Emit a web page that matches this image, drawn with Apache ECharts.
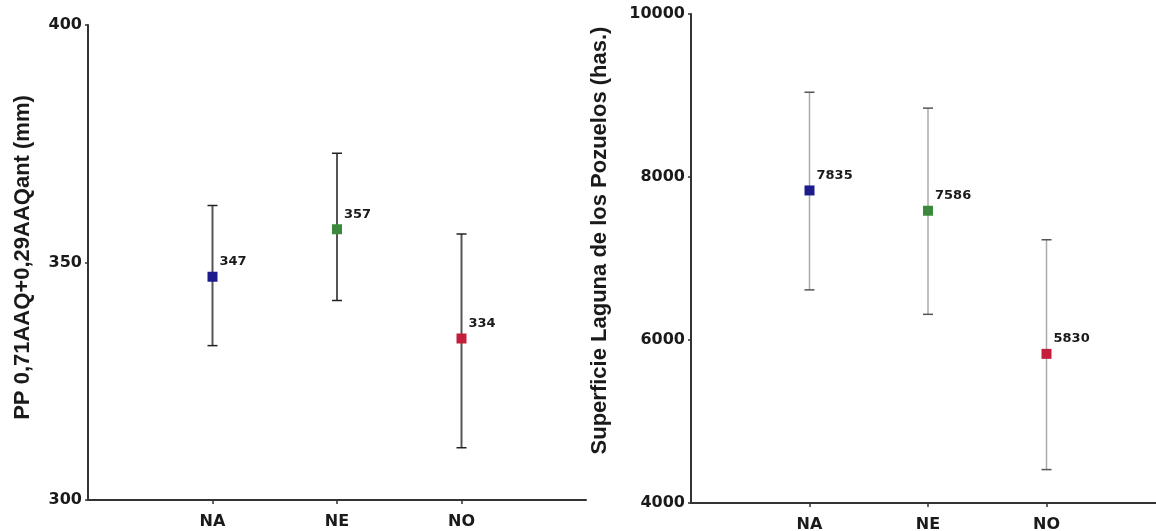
<!DOCTYPE html>
<html>
<head>
<meta charset="utf-8">
<script src="https://cdn.jsdelivr.net/npm/echarts@6/dist/echarts.min.js"></script>
<style>
html,body{margin:0;padding:0;background:#fff;}
#c{width:1156px;height:531px;}
</style>
</head>
<body>
<div id="c"></div>
<script>
// ---- data ----
var categories = ['NA', 'NE', 'NO'];
var markerColors = ['#1c1c8c', '#3b8a3b', '#c41e3a'];

var ppMean = [347, 357, 334];
var ppLow = [332.5, 342, 311];
var ppHigh = [362, 373, 356];

var supMean = [7835, 7586, 5830];
var supLow = [6615, 6315, 4410];
var supHigh = [9040, 8845, 7230];

var ppTicks = {min: 300, max: 400, interval: 50};
var supTicks = {min: 4000, max: 10000, interval: 2000};

var ppTitle = 'PP 0,71AAQ+0,29AAQant (mm)';
var supTitle = 'Superficie Laguna de los Pozuelos (has.)';

// ---- build ----
// categories are placed at positions 1..n on a numeric x axis (0..n+1 slots; right panel is cut by the page edge)
var catPos = categories.map(function (c, i) { return i + 1; });

function pointData(means) {
  return categories.map(function (c, i) {
    return {value: [catPos[i], means[i]], itemStyle: {color: markerColors[i], opacity: 1}};
  });
}
function errData(lo, hi) {
  return categories.map(function (c, i) { return [catPos[i], lo[i], hi[i]]; });
}
function errRender(lineColor, capColor, lw) {
  return function (params, api) {
    var x = api.value(0);
    var p1 = api.coord([x, api.value(1)]);
    var p2 = api.coord([x, api.value(2)]);
    var hw = 5;
    return {
      type: 'group',
      children: [
        {type: 'line', shape: {x1: p1[0], y1: p1[1], x2: p2[0], y2: p2[1]},
         style: {stroke: lineColor, lineWidth: lw}},
        {type: 'line', shape: {x1: p1[0] - hw, y1: p1[1], x2: p1[0] + hw, y2: p1[1]},
         style: {stroke: capColor, lineWidth: 1.5}},
        {type: 'line', shape: {x1: p2[0] - hw, y1: p2[1], x2: p2[0] + hw, y2: p2[1]},
         style: {stroke: capColor, lineWidth: 1.5}}
      ]
    };
  };
}

var tickFont = {fontFamily: 'DejaVu Sans', fontWeight: 'bold', fontSize: 16, color: '#1a1a1a'};
var axisLine = {show: true, lineStyle: {color: '#333', width: 2}};

function xAxisCfg(gi, maxV) {
  return {
    type: 'value', gridIndex: gi, min: 0, max: maxV,
    axisLine: axisLine,
    axisTick: {show: true, customValues: catPos, length: 4, lineStyle: {color: '#333', width: 1.5}},
    axisLabel: Object.assign({customValues: catPos, margin: 14,
      formatter: function (v) { return categories[Math.round(v) - 1] || ''; }}, tickFont),
    splitLine: {show: false}
  };
}
function yAxisCfg(gi, t, name, gap, pad) {
  return {
    type: 'value', gridIndex: gi, min: t.min, max: t.max, interval: t.interval,
    axisLine: axisLine,
    axisTick: {show: true, length: 3, lineStyle: {color: '#333', width: 1.5}},
    axisLabel: Object.assign({margin: 6, formatter: function (v) { return String(v); }}, tickFont),
    splitLine: {show: false},
    name: name, nameLocation: 'middle', nameGap: gap,
    nameTextStyle: {fontFamily: 'Liberation Sans', fontWeight: 'bold', fontSize: 22, color: '#1a1a1a', padding: pad}
  };
}
var labelCfg = {
  show: true, position: 'right', distance: 2, offset: [0, -15],
  fontFamily: 'DejaVu Sans', fontWeight: 'bold', fontSize: 13, color: '#1a1a1a',
  formatter: function (p) { return p.value[1]; }
};

var option = {
  animation: false,
  backgroundColor: '#fff',
  grid: [
    {left: 88, top: 25, width: 498, bottom: 31, outerBoundsMode: 'none', containLabel: false},
    {left: 691, top: 14, width: 465, bottom: 28, outerBoundsMode: 'none', containLabel: false}
  ],
  xAxis: [xAxisCfg(0, 4), xAxisCfg(1, 3.924)],
  yAxis: [
    yAxisCfg(0, ppTicks, ppTitle, 54, [0, 0, 0, 10]),
    yAxisCfg(1, supTicks, supTitle, 80, [0, 0, 0, 36])
  ],
  series: [
    {type: 'custom', xAxisIndex: 0, yAxisIndex: 0, data: errData(ppLow, ppHigh),
     renderItem: errRender('#555', '#222', 2), z: 1},
    {type: 'custom', xAxisIndex: 1, yAxisIndex: 1, data: errData(supLow, supHigh),
     renderItem: errRender('#aaa', '#555', 1.5), z: 1},
    {type: 'scatter', xAxisIndex: 0, yAxisIndex: 0, symbol: 'rect', symbolSize: 10,
     data: pointData(ppMean), label: labelCfg, z: 3},
    {type: 'scatter', xAxisIndex: 1, yAxisIndex: 1, symbol: 'rect', symbolSize: 10,
     data: pointData(supMean), label: labelCfg, z: 3}
  ]
};
var chart = echarts.init(document.getElementById('c'), null, {renderer: 'canvas'});
chart.setOption(option);
</script>
</body>
</html>
